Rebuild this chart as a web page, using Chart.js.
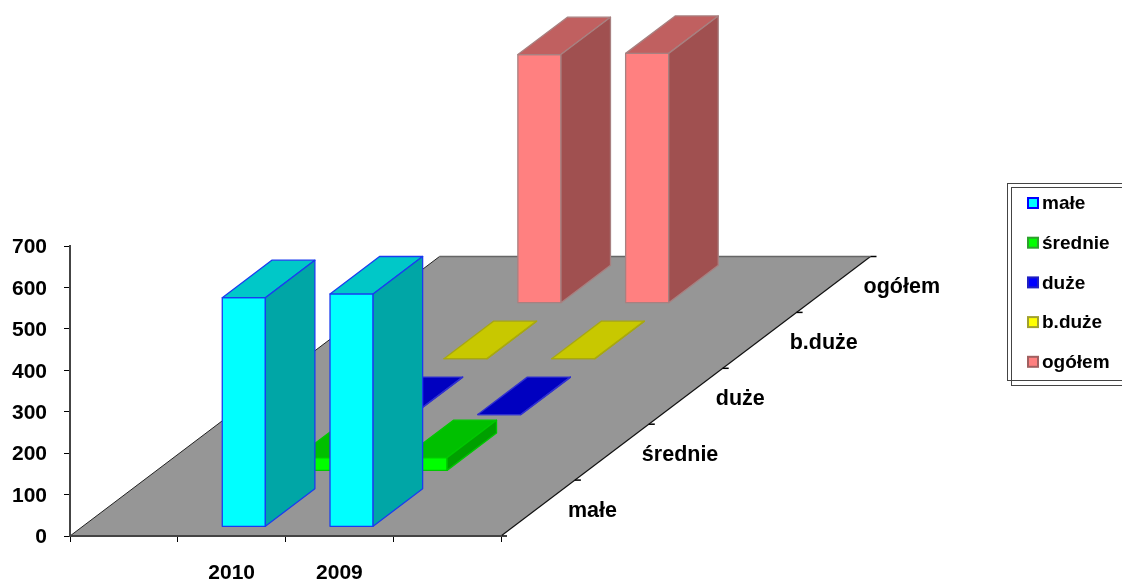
<!DOCTYPE html>
<html>
<head>
<meta charset="utf-8">
<style>
  html, body { margin: 0; padding: 0; background: #fff; }
  canvas { display: block; }
</style>
<script src="https://cdn.jsdelivr.net/npm/chart.js@4"></script>
</head>
<body>
<canvas id="chart" width="1122" height="580"></canvas>
<script>
//-----------------------------------------
// DATA
//-----------------------------------------
const categories = ["", "2010", "2009", ""];
const seriesNames = ["małe", "średnie", "duże", "b.duże", "ogółem"];

const male = [null, 553, 562, null];
const srednie = [null, 32, 32, null];
const duze = [null, 1, 1, null];
const bduze = [null, 1, 1, null];
const ogolem = [null, 600, 603, null];

const yTicks = [0, 100, 200, 300, 400, 500, 600, 700];

//-----------------------------------------
// STYLE
//-----------------------------------------
const FONT = "'Liberation Sans', Arial, sans-serif";

// front, top, side, outline, legend border
const colors = [
  { front: "#00FFFF", top: "#00C8C8", side: "#00A6A6", line: "#1A3CF0", key: "#0000FF" },
  { front: "#00FF00", top: "#00C000", side: "#00A000", line: "#00C800", key: "#2EA02E" },
  { front: "#0000FF", top: "#0000C0", side: "#0000A0", line: "#3030D0", key: "#2020C0" },
  { front: "#FFFF00", top: "#C8C800", side: "#A0A000", line: "#A8A810", key: "#A0A030" },
  { front: "#FF8080", top: "#C06060", side: "#A05050", line: "#A88080", key: "#A06060" }
];

// One depth row on screen, and how much of the row a bar fills
const ROW_DX = 73.9;
const ROW_DY = -55.9;
const BAR_DEPTH = 0.67;

//-----------------------------------------
// HELPERS
//-----------------------------------------
function poly(ctx, pts, fill, stroke, width) {
  ctx.beginPath();
  pts.forEach((p, i) => (i ? ctx.lineTo(p[0], p[1]) : ctx.moveTo(p[0], p[1])));
  ctx.closePath();
  ctx.fillStyle = fill;
  ctx.fill();
  if (stroke) {
    ctx.strokeStyle = stroke;
    ctx.lineWidth = width || 1;
    ctx.lineJoin = "round";
    ctx.stroke();
  }
}

function drawLine(ctx, x1, y1, x2, y2, color, width) {
  ctx.beginPath();
  ctx.moveTo(x1, y1);
  ctx.lineTo(x2, y2);
  ctx.strokeStyle = color;
  ctx.lineWidth = width;
  ctx.stroke();
}

//-----------------------------------------
// FLOOR + DEPTH AXIS
//-----------------------------------------
const floorPlugin = {
  id: "floor3d",
  afterLayout(chart) {
    // value labels sit a little lower than the tick in the original
    chart.scales.y.getLabelItems().forEach(item => {
      item.options.translation[1] += 1.5;
    });
  },
  beforeDraw(chart) {
    const ctx = chart.ctx;
    const a = chart.chartArea;
    const n = seriesNames.length;
    const backX = n * ROW_DX;
    const backY = n * ROW_DY;

    ctx.save();
    poly(ctx, [
      [a.left, a.bottom],
      [a.right, a.bottom],
      [a.right + backX, a.bottom + backY],
      [a.left + backX, a.bottom + backY]
    ], "#969696");

    drawLine(ctx, a.left, a.bottom, a.left + backX, a.bottom + backY, "#222", 1);
    drawLine(ctx, a.right, a.bottom, a.right + backX, a.bottom + backY, "#111", 1.2);
    drawLine(ctx, a.left + backX, a.bottom + backY, a.right + backX, a.bottom + backY, "#666", 1.5);

    // ticks on the depth edge
    for (let i = 0; i <= n; i++) {
      const x = a.right + i * ROW_DX;
      const y = a.bottom + i * ROW_DY;
      drawLine(ctx, x, y, x + 6, y, "#000", 1.5);
    }

    // depth labels
    ctx.font = "bold 21.5px " + FONT;
    ctx.fillStyle = "#000";
    ctx.textAlign = "left";
    ctx.textBaseline = "middle";
    seriesNames.forEach((name, i) => {
      const x = a.right + (i + 0.5) * ROW_DX + 30;
      const y = a.bottom + (i + 0.5) * ROW_DY + 3;
      ctx.fillText(name, x, y);
    });
    ctx.restore();
  }
};

//-----------------------------------------
// 3D BARS, back row first
//-----------------------------------------
const bars3dPlugin = {
  id: "bars3d",
  beforeDatasetsDraw(chart) {
    const ctx = chart.ctx;
    const gap = (1 - BAR_DEPTH) / 2;
    const deepX = BAR_DEPTH * ROW_DX;
    const deepY = BAR_DEPTH * ROW_DY;

    ctx.save();
    for (let s = chart.data.datasets.length - 1; s >= 0; s--) {
      const c = colors[s];
      const shiftX = (s + gap) * ROW_DX;
      const shiftY = (s + gap) * ROW_DY;

      chart.getDatasetMeta(s).data.forEach((bar, i) => {
        if (chart.data.datasets[s].data[i] === null) return;

        const x0 = bar.x - bar.width / 2 + shiftX;
        const x1 = bar.x + bar.width / 2 + shiftX;
        const yTop = bar.y + shiftY;
        const yBase = bar.base + shiftY;

        poly(ctx, [[x0, yTop], [x1, yTop], [x1, yBase], [x0, yBase]], c.front, c.line, 1.3);
        poly(ctx, [[x0, yTop], [x1, yTop], [x1 + deepX, yTop + deepY], [x0 + deepX, yTop + deepY]], c.top, c.line, 1.3);
        poly(ctx, [[x1, yTop], [x1 + deepX, yTop + deepY], [x1 + deepX, yBase + deepY], [x1, yBase]], c.side, c.line, 1.3);
      });
    }
    ctx.restore();
    return false; // the plain 2D bars are not wanted
  }
};

//-----------------------------------------
// LEGEND BOX (runs off the right side)
//-----------------------------------------
const legendPlugin = {
  id: "legendBox",
  afterDraw(chart) {
    const ctx = chart.ctx;
    ctx.save();
    ctx.strokeStyle = "#444";
    ctx.lineWidth = 1;
    ctx.strokeRect(1007.5, 183.5, 130, 197);
    ctx.strokeRect(1011.5, 187.5, 130, 198);

    ctx.font = "bold 19px " + FONT;
    ctx.textAlign = "left";
    ctx.textBaseline = "middle";
    seriesNames.forEach((name, i) => {
      const y = 203 + i * 39.7;
      ctx.fillStyle = colors[i].front;
      ctx.strokeStyle = colors[i].key;
      ctx.lineWidth = 2;
      ctx.fillRect(1028, y - 5, 10, 10);
      ctx.strokeRect(1028, y - 5, 10, 10);
      ctx.fillStyle = "#000";
      ctx.fillText(name, 1042, y + 1);
    });
    ctx.restore();
  }
};

//-----------------------------------------
// CHART
//-----------------------------------------
const datasets = [male, srednie, duze, bduze, ogolem].map((values, i) => ({
  label: seriesNames[i],
  data: values,
  grouped: false,
  barPercentage: 0.4,
  categoryPercentage: 1,
  backgroundColor: colors[i].front
}));

new Chart(document.getElementById("chart"), {
  type: "bar",
  data: { labels: categories, datasets },
  plugins: [floorPlugin, bars3dPlugin, legendPlugin],
  options: {
    responsive: false,
    animation: false,
    layout: { padding: { top: 246, right: 621, left: 0, bottom: 0 } },
    plugins: { legend: { display: false }, tooltip: { enabled: false } },
    scales: {
      x: {
        afterFit(scale) { scale.height = 44; },
        grid: { drawOnChartArea: false, tickLength: 6, tickColor: "#000", offset: true },
        border: { color: "#444", width: 2 },
        ticks: {
          autoSkip: false,
          maxRotation: 0,
          padding: 19,
          color: "#000",
          font: { family: FONT, size: 21, weight: "bold" }
        }
      },
      y: {
        min: yTicks[0],
        max: yTicks[yTicks.length - 1],
        afterFit(scale) { scale.width = 70; },
        afterBuildTicks(scale) { scale.ticks = yTicks.map(v => ({ value: v })); },
        grid: { drawOnChartArea: false, tickLength: 6, tickColor: "#000" },
        border: { color: "#444", width: 2 },
        ticks: {
          padding: 17,
          color: "#000",
          font: { family: FONT, size: 21, weight: "bold" }
        }
      }
    }
  }
});
</script>
</body>
</html>
